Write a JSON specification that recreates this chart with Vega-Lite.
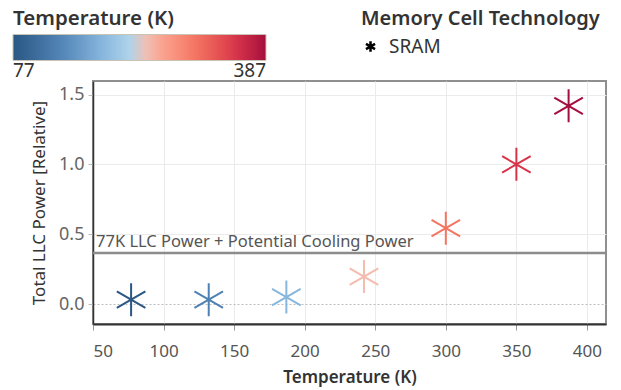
{
  "$schema": "https://vega.github.io/schema/vega-lite/v6.json",
  "width": 513,
  "height": 243,
  "autosize": {"type": "none"},
  "padding": {"left": 93, "top": 81, "right": 15, "bottom": 66},
  "background": "white",
  "config": {
    "font": "Noto Sans",
    "view": {"stroke": "#8f8f8f", "strokeWidth": 2}
  },
  "datasets": {
    "main": [
      {"temp": 77, "power": 0.031, "tech": "SRAM"},
      {"temp": 132, "power": 0.031, "tech": "SRAM"},
      {"temp": 187, "power": 0.05, "tech": "SRAM"},
      {"temp": 242, "power": 0.197, "tech": "SRAM"},
      {"temp": 300, "power": 0.543, "tech": "SRAM"},
      {"temp": 350, "power": 1.0, "tech": "SRAM"},
      {"temp": 387, "power": 1.419, "tech": "SRAM"}
    ],
    "ref": [
      {"temp": 50, "power": 0.365, "label": "77K LLC Power + Potential Cooling Power"}
    ]
  },
  "layer": [
    {
      "data": {"name": "ref"},
      "mark": {"type": "rule", "color": "#8c8c8c", "strokeWidth": 2.5},
      "encoding": {
        "y": {"field": "power", "type": "quantitative"}
      }
    },
    {
      "data": {"name": "ref"},
      "mark": {"type": "text", "align": "left", "baseline": "alphabetic", "dx": 3, "dy": -6, "fontSize": 16.5, "color": "#555555"},
      "encoding": {
        "x": {"field": "temp", "type": "quantitative"},
        "y": {"field": "power", "type": "quantitative"},
        "text": {"field": "label"}
      }
    },
    {
      "data": {"name": "main"},
      "mark": {"type": "point", "filled": false, "strokeWidth": 2, "size": 1089, "opacity": 1},
      "encoding": {
        "x": {
          "field": "temp", "type": "quantitative",
          "scale": {"domain": [50, 413.5], "nice": false, "zero": false},
          "axis": {
            "values": [50, 100, 150, 200, 250, 300, 350, 400],
            "title": "Temperature (K)",
            "titleFontSize": 17, "titleFontWeight": 600, "titleColor": "#333333", "titlePadding": 10,
            "labelFontSize": 17, "labelColor": "#555555", "labelFlush": true, "labelPadding": 13,
            "tickSize": 6, "tickColor": "#999999",
            "domainColor": "#333333", "domainWidth": 2,
            "grid": true, "gridColor": "#ebebeb"
          }
        },
        "y": {
          "field": "power", "type": "quantitative",
          "scale": {"domain": [-0.143, 1.597], "nice": false, "zero": false},
          "axis": {
            "values": [0, 0.5, 1, 1.5],
            "format": ".1f",
            "title": "Total LLC Power [Relative]",
            "titleFontSize": 17, "titleFontWeight": "normal", "titleColor": "#333333", "titlePadding": 10,
            "labelFontSize": 18, "labelColor": "#666666", "labelPadding": 4,
            "tickSize": 5, "tickColor": "#bbbbbb",
            "domainColor": "#333333", "domainWidth": 1.5,
            "grid": true,
            "gridColor": {"condition": {"test": "datum.value === 0", "value": "#bdbdbd"}, "value": "#ebebeb"},
            "gridDash": {"condition": {"test": "datum.value === 0", "value": [2, 2]}, "value": []}
          }
        },
        "color": {
          "field": "temp", "type": "quantitative",
          "scale": {
            "type": "linear",
            "domain": [77, 132.8, 187, 219.6, 232, 244.4, 300.2, 349.8, 387],
            "range": ["#2a5783", "#4f82b5", "#88b7de", "#aed3ea", "#d5d5d5", "#fbb4a3", "#f47562", "#d9334a", "#a50f3d"]
          },
          "legend": {
            "orient": "none", "legendX": -80, "legendY": -72, "direction": "horizontal",
            "gradientLength": 253, "gradientThickness": 26,
            "gradientStrokeColor": "#c9c3b3", "gradientStrokeWidth": 1,
            "title": "Temperature (K)", "titleFontSize": 20.5, "titleFontWeight": 600, "titleColor": "#333333", "titlePadding": 5,
            "labelFontSize": 19, "labelColor": "#333333", "labelOffset": 1,
            "values": [77, 387]
          }
        },
        "shape": {
          "field": "tech", "type": "nominal",
          "scale": {"range": ["M0,-1L0,1M-0.866,-0.5L0.866,0.5M-0.866,0.5L0.866,-0.5"]},
          "legend": {
            "orient": "none", "legendX": 268, "legendY": -72,
            "title": "Memory Cell Technology", "titleFontSize": 20, "titleFontWeight": 600, "titleColor": "#333333", "titlePadding": 8, "titleLimit": 400,
            "labelFontSize": 19, "labelColor": "#333333", "labelOffset": 9,
            "symbolSize": 110, "symbolStrokeColor": "#000000", "symbolStrokeWidth": 2.5, "symbolFillColor": "transparent", "symbolOffset": 0
          }
        }
      }
    }
  ]
}
